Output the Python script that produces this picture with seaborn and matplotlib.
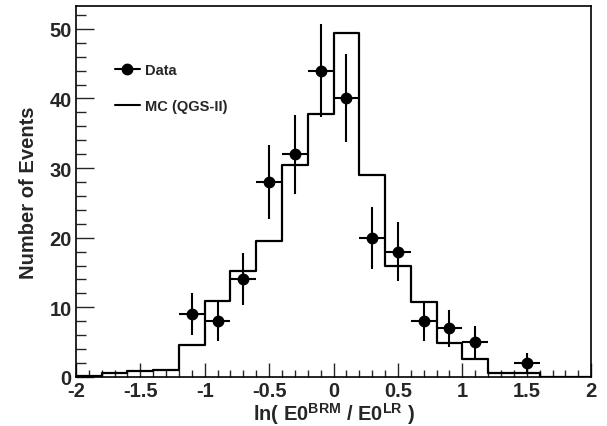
import numpy as np
import pandas as pd
import matplotlib
matplotlib.use("Agg")
import matplotlib.pyplot as plt
from matplotlib.lines import Line2D
from matplotlib.ticker import MultipleLocator, FuncFormatter
import seaborn as sns

# MC histogram (bin edges 0.2 wide from -2 to 2)
mc_edges = [-2.0, -1.8, -1.6, -1.4, -1.2, -1.0, -0.8, -0.6, -0.4, -0.2, 0.0,
            0.2, 0.4, 0.6, 0.8, 1.0, 1.2, 1.4, 1.6, 1.8, 2.0]
mc_centers = [-1.9, -1.7, -1.5, -1.3, -1.1, -0.9, -0.7, -0.5, -0.3, -0.1,
              0.1, 0.3, 0.5, 0.7, 0.9, 1.1, 1.3, 1.5, 1.7, 1.9]
mc_values = [0.1, 0.5, 0.8, 1.0, 4.6, 10.9, 15.2, 19.5, 30.4, 37.8,
             49.4, 29.0, 15.9, 10.8, 4.9, 2.6, 0.6, 0.6, 0.0, 0.0]

# Data points
data_x = [-1.1, -0.9, -0.7, -0.5, -0.3, -0.1, 0.1, 0.3, 0.5, 0.7, 0.9, 1.1, 1.5]
data_y = [9, 8, 14, 28, 32, 44, 40, 20, 18, 8, 7, 5, 2]
data_yerr = [3.0, 2.83, 3.74, 5.29, 5.66, 6.63, 6.32, 4.47, 4.24, 2.83, 2.65, 2.24, 1.41]
data_xerr = [0.1] * len(data_x)

sns.set_style("ticks")
plt.rcParams['font.family'] = ['Liberation Sans', 'DejaVu Sans']
plt.rcParams['font.weight'] = 'bold'
plt.rcParams['mathtext.fontset'] = 'custom'
plt.rcParams['mathtext.rm'] = 'Liberation Sans:bold'
plt.rcParams['mathtext.bf'] = 'Liberation Sans:bold'
plt.rcParams['mathtext.it'] = 'Liberation Sans:bold'
plt.rcParams['mathtext.default'] = 'bf'
plt.rcParams['axes.unicode_minus'] = False

fig = plt.figure(figsize=(6.07, 4.27), dpi=100)
ax = fig.add_axes([0.125, 0.115, 0.849, 0.869])

mc_df = pd.DataFrame({"x": mc_centers, "w": mc_values})
sns.histplot(data=mc_df, x="x", weights="w", bins=mc_edges, element="step",
             fill=False, color="black", linewidth=1.6, ax=ax)

ax.errorbar(data_x, data_y, yerr=data_yerr, xerr=data_xerr, fmt="o",
            color="black", markersize=7.5, elinewidth=1.5, capsize=0, zorder=5)

ax.set_xlim(-2, 2)
ax.set_ylim(0, 53.3)
ax.xaxis.set_major_locator(MultipleLocator(0.5))
ax.xaxis.set_minor_locator(MultipleLocator(0.1))
ax.yaxis.set_major_locator(MultipleLocator(10))
ax.yaxis.set_minor_locator(MultipleLocator(2))
ax.xaxis.set_major_formatter(FuncFormatter(lambda v, p: ("%g" % v).replace("\u2212", "-")))
ax.yaxis.set_major_formatter(FuncFormatter(lambda v, p: "%g" % v))
ax.tick_params(axis="x", which="major", direction="in", length=10, width=1.0,
               labelsize=14.5, pad=3)
ax.tick_params(axis="x", which="minor", direction="in", length=5, width=1.0)
ax.tick_params(axis="y", which="major", direction="in", length=13, width=1.0,
               labelsize=14.5, pad=3)
ax.tick_params(axis="y", which="minor", direction="in", length=7, width=1.0)
for lab in ax.get_xticklabels() + ax.get_yticklabels():
    lab.set_fontweight("bold")
for s in ax.spines.values():
    s.set_visible(True)
    s.set_linewidth(1.2)
    s.set_color("black")

ax.set_xlabel(r"ln( E0$^{\mathbf{BRM}}$ / E0$^{\mathbf{LR}}$ )", fontsize=14.5,
              fontweight="bold", labelpad=0)
ax.set_ylabel("Number of Events", fontsize=14.5, fontweight="bold", labelpad=8)

handles = [
    Line2D([0], [0], color="black", marker="o", markersize=7.5, linewidth=1.5),
    Line2D([0], [0], color="black", linewidth=1.5),
]
ax.legend(handles, ["Data", "MC (QGS-II)"], loc="upper left",
          bbox_to_anchor=(0.05, 0.88), frameon=False,
          prop={"weight": "bold", "size": 10.5}, handlelength=1.7,
          handletextpad=0.35, labelspacing=1.5)

fig.savefig("out.png", dpi=100)
